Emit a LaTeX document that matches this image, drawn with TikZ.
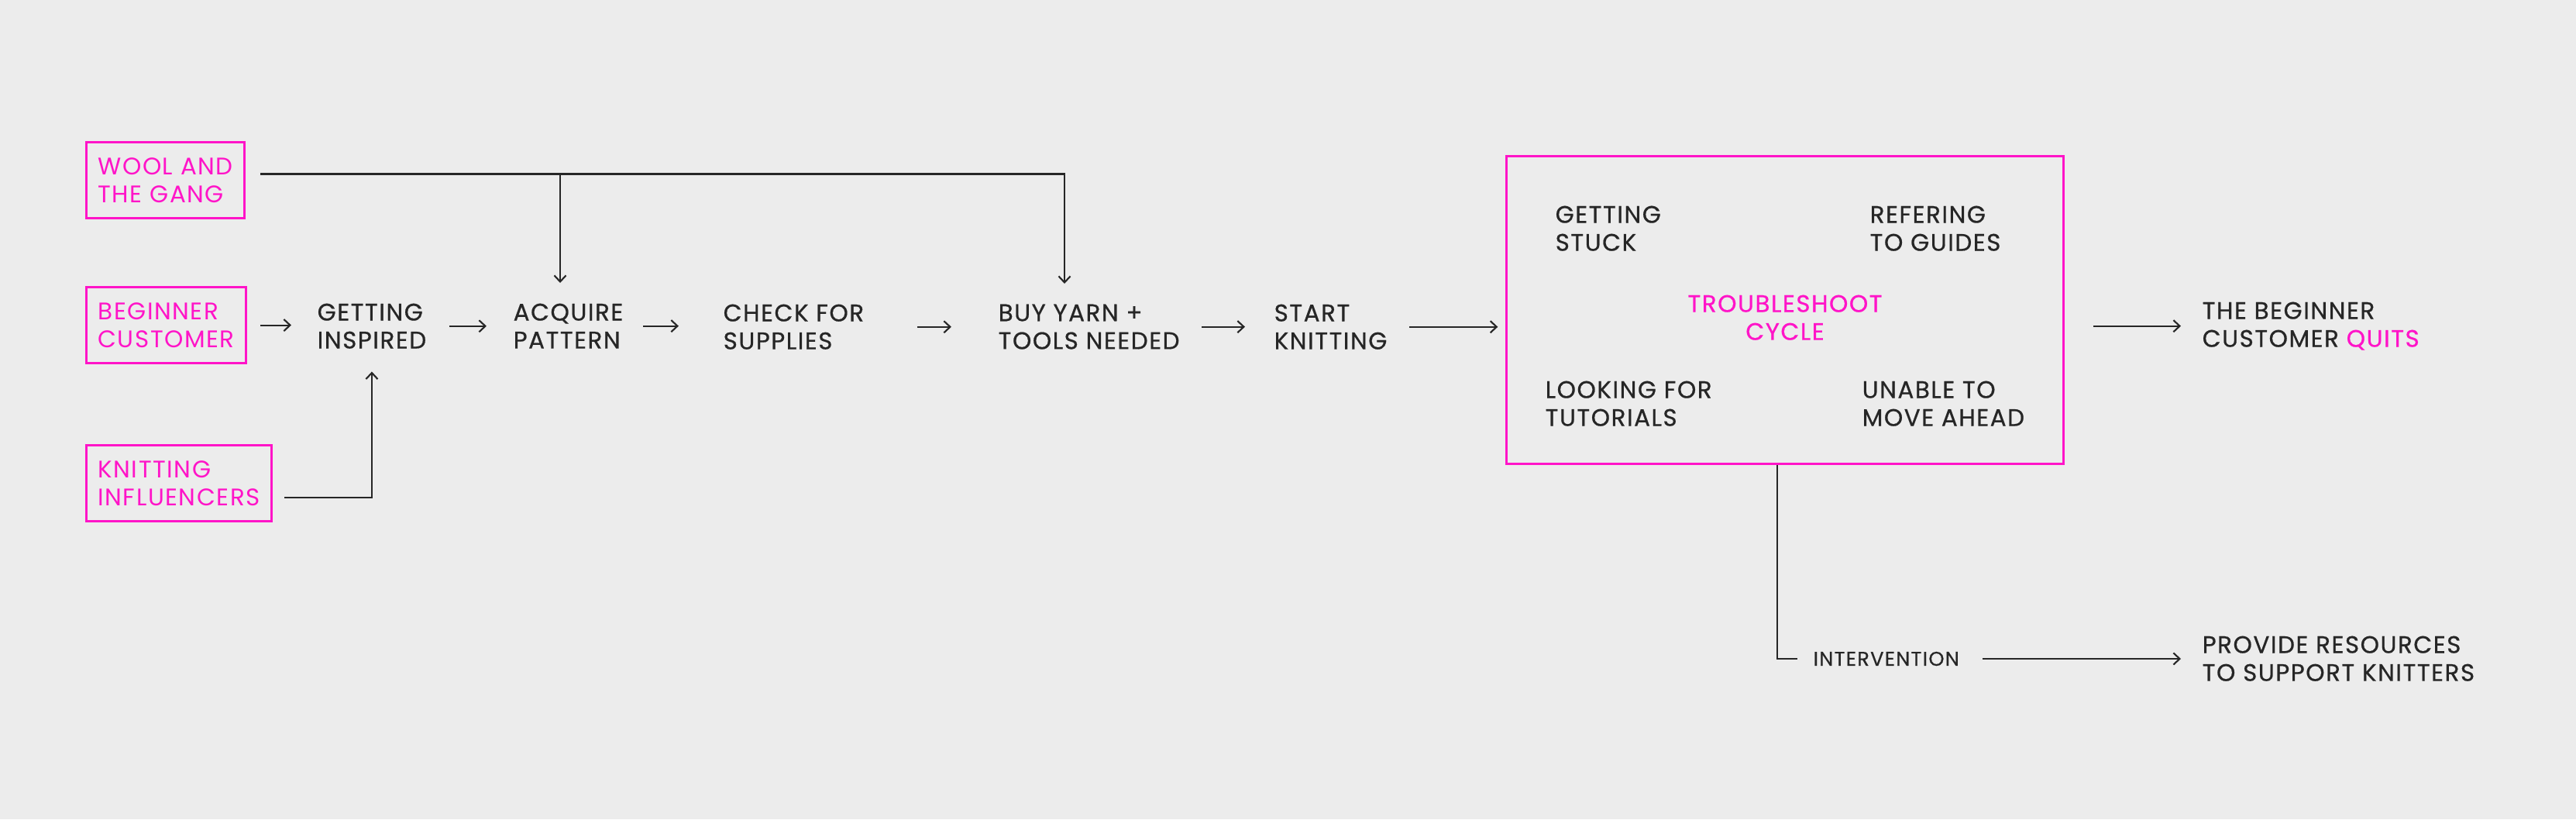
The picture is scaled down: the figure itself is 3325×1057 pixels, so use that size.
\documentclass[tikz,border=0pt]{standalone}
\usepackage{fontspec}
\setmainfont{Poppins}[LetterSpace=5]
\newfontfamily\inkfont{Poppins}[LetterSpace=5, FakeBold=0.6]
\usetikzlibrary{arrows.meta,calc}
\definecolor{pinky}{RGB}{255,20,200}
\definecolor{ink}{RGB}{38,38,38}
\definecolor{paper}{RGB}{236,236,236}
\tikzset{
	steptext/.style={anchor=north west, inner sep=0pt, align=left, text=ink, font=\inkfont\fontsize{8.8}{10.25}\selectfont},
	source/.style={anchor=north west, draw=pinky, line width=0.85pt, text=pinky, align=left, inner xsep=0.15cm, inner ysep=0.2cm, font=\fontsize{8.8}{10.25}\selectfont},
	flow/.style={draw=ink, line width=0.6pt, -{Straight Barb[length=2.3pt,width=4.3pt]}},
	plain/.style={draw=ink, line width=0.6pt},
}
\begin{document}
\begin{tikzpicture}[x=0.01cm, y=-0.01cm]
	\fill[paper] (0,0) rectangle (3325,1057);
	% sources
	\node[source] (wool) at (110,182) {WOOL AND\\THE GANG};
	\node[source] (beginner) at (110,369) {BEGINNER\\CUSTOMER};
	\node[source] (influencers) at (110,573) {KNITTING\\INFLUENCERS};
	% journey
	\node[steptext] (inspired) at (409,391) {GETTING\\INSPIRED};
	\node[steptext] (acquire) at (662,391) {ACQUIRE\\PATTERN};
	\node[steptext] (check) at (933,392) {CHECK FOR\\SUPPLIES};
	\node[steptext] (buy) at (1288,392) {BUY YARN +\\TOOLS NEEDED};
	\node[steptext] (knitting) at (1644,392) {START\\KNITTING};
	% troubleshoot cycle
	\node[draw=pinky, line width=0.85pt, minimum width=7.18cm, minimum height=3.96cm, inner sep=0pt] (cycle) at (2304,400) {};
	\node[steptext] (stuck) at (2007,265) {GETTING\\STUCK};
	\node[steptext] (guides) at (2413,265) {REFERING\\TO GUIDES};
	\node[steptext, anchor=north, align=center, text=pinky] (trouble) at (2304,380) {TROUBLESHOOT\\CYCLE};
	\node[steptext] (tutorials) at (1994,491) {LOOKING FOR\\TUTORIALS};
	\node[steptext] (unable) at (2403,491) {UNABLE TO\\MOVE AHEAD};
	% outcomes
	\node[steptext] (quits) at (2842,389) {THE BEGINNER\\CUSTOMER \textcolor{pinky}{QUITS}};
	\node[steptext, anchor=west, font=\inkfont\fontsize{7.3}{8.6}\selectfont] (intervention) at (2340,850) {INTERVENTION};
	\node[steptext] (resources) at (2842,820) {PROVIDE RESOURCES\\TO SUPPORT KNITTERS};
	% connectors
	\coordinate (bus) at ($(wool.east)+(19,-8)$);
	\coordinate (acqin) at ($(acquire.north west)+(61,-26)$);
	\coordinate (buyin) at ($(buy.north west)+(86,-26)$);
	\draw[flow] (bus) -| (buyin);
	\draw[flow] (bus -| acqin) -- (acqin);
	\coordinate (inflout) at ($(influencers.east)+(15,18)$);
	\draw[flow] (inflout) -| ($(inspired.south)+(0,29)$);
	\draw[flow, shorten <=0.17cm, shorten >=0.33cm] (beginner.east) -- (beginner.east -| inspired.west);
	\draw[flow, shorten <=0.29cm, shorten >=0.34cm] (inspired.east) -- (inspired.east -| acquire.west);
	\draw[flow, shorten <=0.25cm, shorten >=0.57cm] (acquire.east) -- (acquire.east -| check.west);
	\draw[flow, shorten <=0.68cm, shorten >=0.60cm] (check.east) -- (check.east -| buy.west);
	\draw[flow, shorten <=0.28cm, shorten >=0.37cm] (buy.east) -- (buy.east -| knitting.west);
	\draw[flow, shorten <=0.28cm, shorten >=0.10cm] (knitting.east) -- (knitting.east -| cycle.west);
	\draw[flow, shorten <=0.37cm, shorten >=0.27cm] (quits.west -| cycle.east) -- (quits.west);
	\draw[plain, shorten >=0.20cm] ($(cycle.south)+(-10,0)$) |- (intervention.west);
	\draw[flow, shorten <=0.29cm, shorten >=0.27cm] (intervention.east) -- (intervention.east -| resources.west);
\end{tikzpicture}
\end{document}
